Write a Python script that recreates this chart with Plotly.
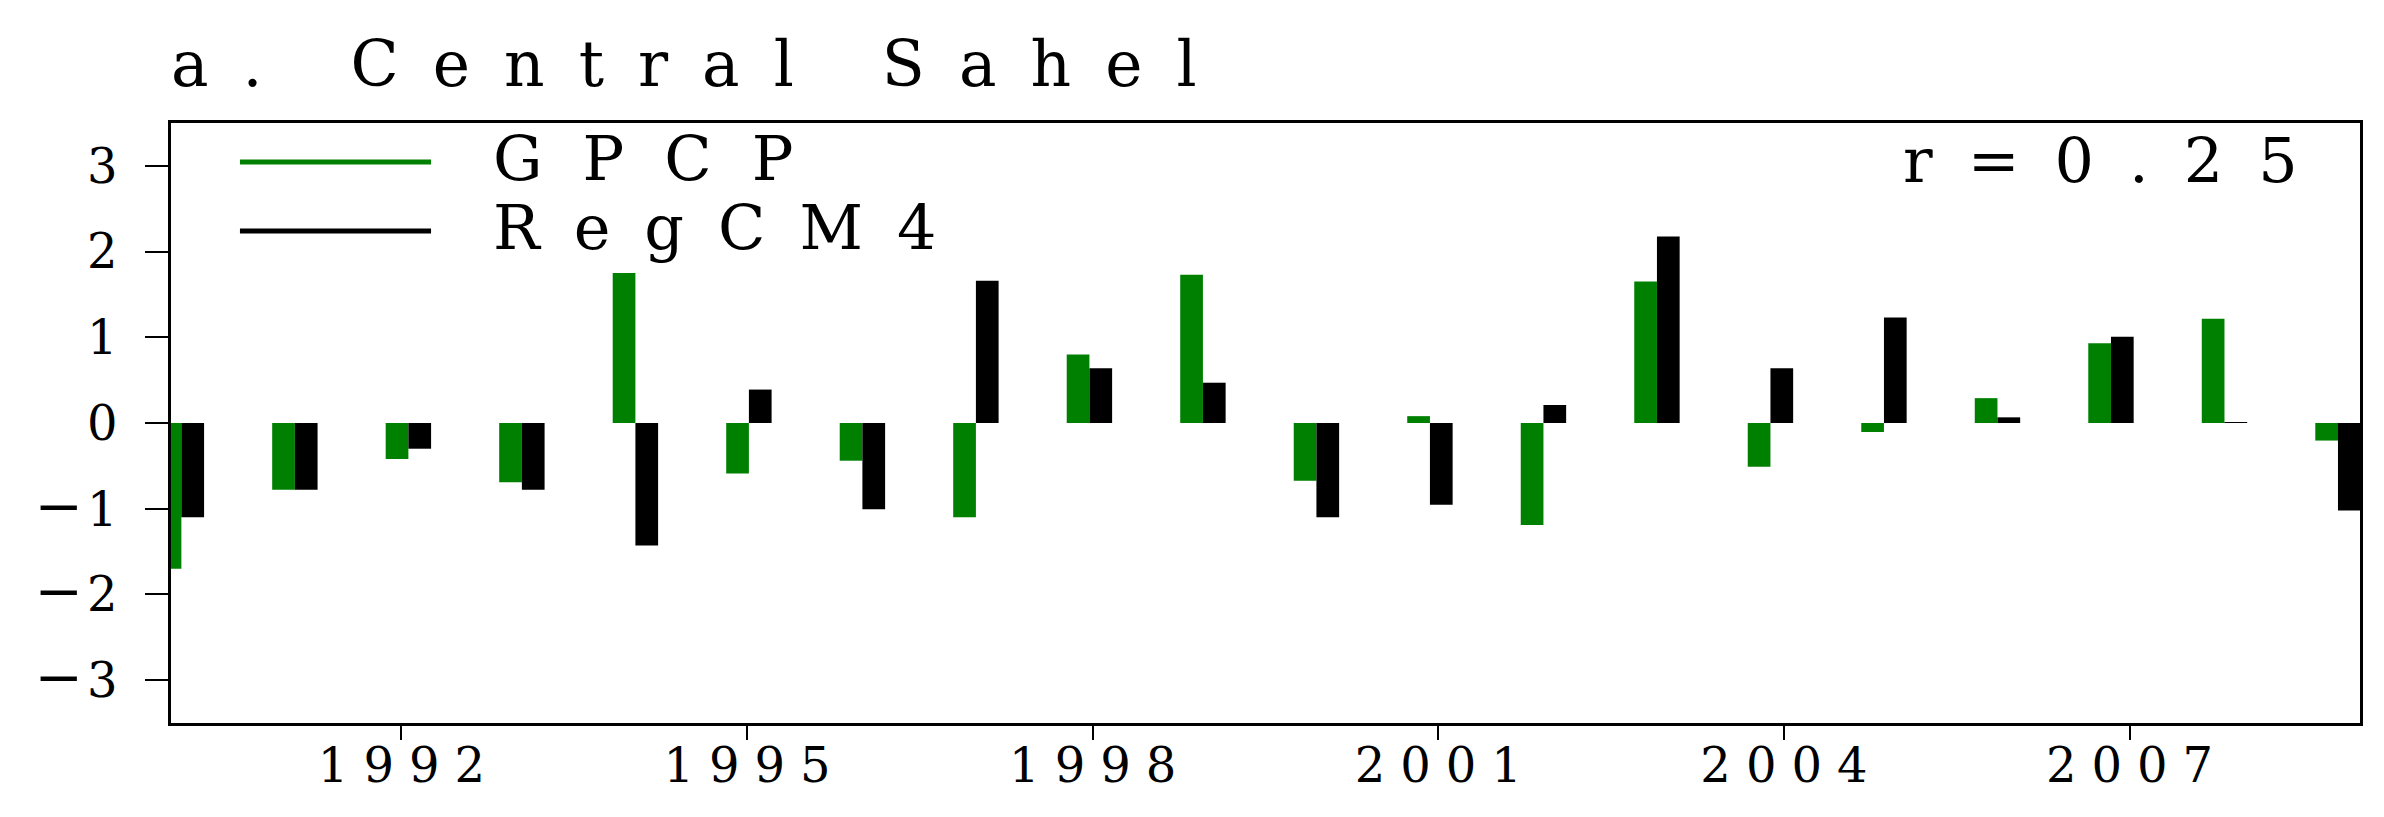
import plotly.graph_objects as go

# standardized rainfall anomaly, Central Sahel
years = list(range(1990, 2010))
gpcp = [-1.70, -0.78, -0.42, -0.69, 1.75, -0.59, -0.44, -1.10, 0.80, 1.73,
        -0.675, 0.08, -1.19, 1.65, -0.51, -0.105, 0.29, 0.93, 1.215, -0.205]
regcm4 = [-1.10, -0.78, -0.30, -0.78, -1.43, 0.39, -1.005, 1.66, 0.64, 0.47,
          -1.10, -0.955, 0.21, 2.175, 0.64, 1.23, 0.066, 1.005, 0.01, -1.02]

x_ticks = [1992, 1995, 1998, 2001, 2004, 2007]
y_ticks = [-3, -2, -1, 0, 1, 2, 3]

title = "a. Central Sahel"
corr_text = "r=0.25"
names = ["GPCP", "RegCM4"]
colors = ["#008000", "#000000"]

FONT = "DejaVu Serif"


def spaced(s, px):
    # wide letter spacing, last char left alone so anchors stay put
    return '<span style="letter-spacing:%dpx">%s</span>%s' % (px, s[:-1], s[-1])


def ylabel(t):
    if t < 0:
        # long minus like the original
        return '<span style="font-size:58px;letter-spacing:4px">\u2212</span>%d' % -t
    return str(t)


fig = go.Figure()
# empty trace so the visible year axis gets drawn
fig.add_trace(go.Scatter(x=[], y=[], showlegend=False, hoverinfo="skip"))
for vals, name, col, off in zip([gpcp, regcm4], names, colors, [-0.2, 0.0]):
    fig.add_trace(go.Bar(
        x=years, y=vals, name=name, xaxis="x2",
        marker=dict(color=col, line=dict(width=0)),
        width=0.2, offset=off, showlegend=False,
    ))

fig.update_layout(
    width=2384, height=817,
    margin=dict(l=163, r=32, t=115, b=102, autoexpand=False),
    paper_bgcolor="white", plot_bgcolor="white",
    font=dict(family=FONT, color="black"),
    title=dict(
        text=spaced(title, 34),
        font=dict(family=FONT, size=63, color="black"),
        xref="paper", x=0.0, xanchor="left",
        yref="container", y=0.931, yanchor="middle",
    ),
    barmode="overlay",
    xaxis=dict(
        range=[1990, 2009],
        tickmode="array", tickvals=x_ticks,
        ticktext=[spaced(str(t), 15) for t in x_ticks],
        tickfont=dict(size=48), ticklabelstandoff=-15,
        ticks="outside", ticklen=14, tickwidth=2, tickcolor="black",
        showline=True, linecolor="black", linewidth=2.5, mirror=True,
        showgrid=False, zeroline=False,
    ),
    # bars sit on a slightly stretched hidden axis, like in the original
    xaxis2=dict(
        range=[1989.9086, 2009.194], overlaying="x", anchor="y",
        visible=False, showgrid=False, zeroline=False,
    ),
    yaxis=dict(
        range=[-3.5, 3.5],
        tickmode="array", tickvals=y_ticks,
        ticktext=[ylabel(t) for t in y_ticks],
        tickfont=dict(size=48), ticklabelstandoff=18,
        ticks="outside", ticklen=23, tickwidth=2, tickcolor="black",
        showline=True, linecolor="black", linewidth=2.5, mirror=True,
        showgrid=False, zeroline=False,
    ),
)

# hand-drawn legend (long line keys like the original)
for i, (name, col) in enumerate(zip(names, colors)):
    yk = 0.935 - i * 0.115
    fig.add_shape(type="line", xref="paper", yref="paper",
                  x0=0.0315, x1=0.1188, y0=yk, y1=yk,
                  line=dict(color=col, width=5))
    fig.add_annotation(text=spaced(name, 40 if i == 0 else 34),
                       xref="paper", yref="paper", x=0.146, y=yk + 0.005,
                       xanchor="left", yanchor="middle", showarrow=False,
                       font=dict(family=FONT, size=62, color="black"))

fig.add_annotation(text=spaced(corr_text, 35), xref="paper", yref="paper",
                   x=0.9726, y=0.937, xanchor="right", yanchor="middle",
                   showarrow=False, font=dict(family=FONT, size=62, color="black"))

fig.write_html("out.html")
